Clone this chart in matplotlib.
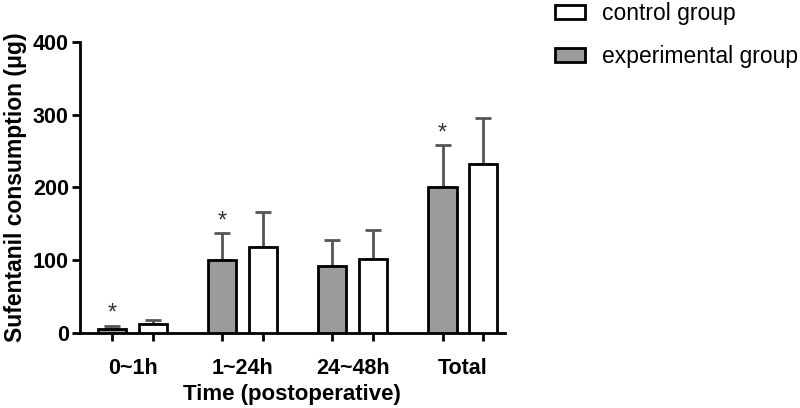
import numpy as np
import matplotlib.pyplot as plt
from matplotlib.patches import Patch

plt.rcParams["font.family"] = ["Liberation Sans", "DejaVu Sans"]

categories = ["0~1h", "1~24h", "24~48h", "Total"]
exp_mean = [5, 100, 92, 200]
exp_sd = [5, 37, 36, 58]
ctrl_mean = [12, 118, 102, 232]
ctrl_sd = [6, 48, 40, 64]
exp_sig = [True, True, False, True]

gray = "#9b9b9b"
x = np.arange(len(categories))
off = 0.186
w = 0.255

fig = plt.figure(figsize=(8, 4.08), dpi=100)
ax = fig.add_axes([0.1, 0.184, 0.531, 0.713])

ax.bar(x - off, exp_mean, w, color=gray, edgecolor="black", linewidth=2, zorder=3)
ax.bar(x + off, ctrl_mean, w, color="white", edgecolor="black", linewidth=2, zorder=3)
ax.errorbar(x - off, exp_mean, yerr=[np.zeros(4), exp_sd], fmt="none",
            ecolor="#555555", elinewidth=2, capsize=6, capthick=2, zorder=2)
ax.errorbar(x + off, ctrl_mean, yerr=[np.zeros(4), ctrl_sd], fmt="none",
            ecolor="#555555", elinewidth=2, capsize=6, capthick=2, zorder=2)

# 유의한 차이가 있는 구간에만 별표 표시
for i, s in enumerate(exp_sig):
    if s:
        ax.text(x[i] - off, exp_mean[i] + exp_sd[i] + 1, "*", ha="center", va="bottom",
                fontsize=17, color="#333333")

ax.set_xlim(-0.48, 3.38)
ax.set_ylim(0, 400)
ax.set_yticks([0, 100, 200, 300, 400])
for lab in ax.get_yticklabels():
    lab.set_fontweight("bold")
ax.tick_params(axis="y", labelsize=15.5, width=2, length=6, direction="out", pad=2)

ax.set_xticks(np.concatenate([x - off, x + off]))
ax.set_xticklabels([])
ax.tick_params(axis="x", which="major", width=2, length=6, direction="out")
ax.set_xticks(x, minor=True)
ax.set_xticklabels(categories, minor=True, fontsize=15.5, fontweight="bold")
ax.tick_params(axis="x", which="minor", length=0, pad=18)

for sp in ["top", "right"]:
    ax.spines[sp].set_visible(False)
for sp in ["left", "bottom"]:
    ax.spines[sp].set_linewidth(2)

ax.set_ylabel("Sufentanil consumption (μg)", fontsize=16.5, fontweight="bold", labelpad=4)
ax.set_xlabel("Time (postoperative)", fontsize=16, fontweight="bold", labelpad=4)

handles = [Patch(facecolor="white", edgecolor="black", linewidth=2, label="control group"),
           Patch(facecolor=gray, edgecolor="black", linewidth=2, label="experimental group")]
fig.legend(handles=handles, loc="upper left", bbox_to_anchor=(0.691, 1.0), frameon=False,
           fontsize=16.5, handlelength=1.3, handleheight=0.57, labelspacing=0.87,
           handletextpad=0.74, borderpad=0.1, borderaxespad=0)

fig.savefig("out.png", dpi=100)
